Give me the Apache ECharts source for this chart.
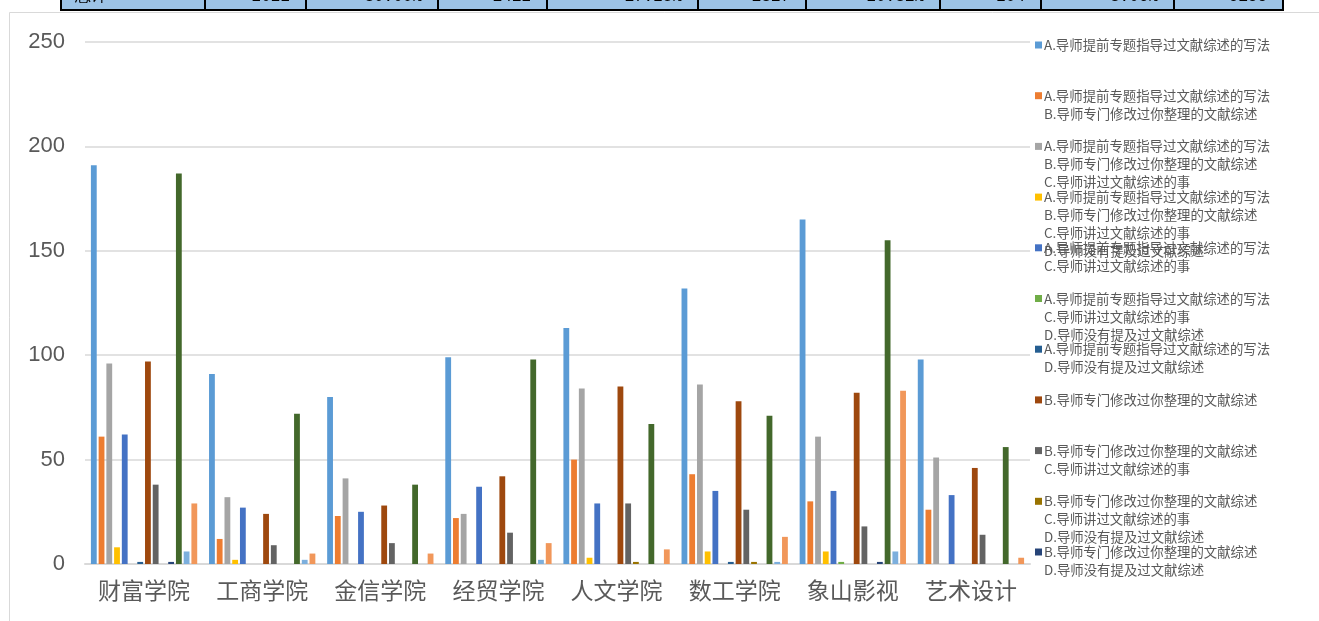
<!DOCTYPE html>
<html><head><meta charset="utf-8">
<script src="https://cdn.jsdelivr.net/npm/echarts@6/dist/echarts.min.js"></script>
<style>html,body{margin:0;padding:0;background:#fff;}#c{width:1319px;height:621px;}</style>
</head><body><div id="c"></div>
<script>
const categories = ['财富学院','工商学院','金信学院','经贸学院','人文学院','数工学院','象山影视','艺术设计'];
const yTicks = [0, 50, 100, 150, 200, 250];
const A = 'A.导师提前专题指导过文献综述的写法';
const B = 'B.导师专门修改过你整理的文献综述';
const C = 'C.导师讲过文献综述的事';
const D = 'D.导师没有提及过文献综述';
const seriesNames = [
  [A], [A,B], [A,B,C], [A,B,C,D], [A,C], [A,C,D], [A,D],
  [B], [B,C], [B,C,D], [B,D], [C], [C,D], [D]
];
const vA    = [191, 91, 80, 99, 113, 132, 165, 98];
const vAB   = [61, 12, 23, 22, 50, 43, 30, 26];
const vABC  = [96, 32, 41, 24, 84, 86, 61, 51];
const vABCD = [8, 2, 0, 0, 3, 6, 6, 0];
const vAC   = [62, 27, 25, 37, 29, 35, 35, 33];
const vACD  = [0, 0, 0, 0, 0, 0, 1, 0];
const vAD   = [1, 0, 0, 0, 0, 1, 0, 0];
const vB    = [97, 24, 28, 42, 85, 78, 82, 46];
const vBC   = [38, 9, 10, 15, 29, 26, 18, 14];
const vBCD  = [0, 0, 0, 0, 1, 1, 0, 0];
const vBD   = [1, 0, 0, 0, 0, 0, 1, 0];
const vC    = [187, 72, 38, 98, 67, 71, 155, 56];
const vCD   = [6, 2, 0, 2, 0, 1, 6, 0];
const vD    = [29, 5, 5, 10, 7, 13, 83, 3];
const seriesValues = [vA, vAB, vABC, vABCD, vAC, vACD, vAD, vB, vBC, vBCD, vBD, vC, vCD, vD];
const colors = ['#5B9BD5','#ED7D31','#A5A5A5','#FFC000','#4472C4','#70AD47','#255E91',
                '#9E480E','#636363','#997300','#264478','#43682B','#7CAFDD','#F1975A'];
// top table strip (clipped screenshot row)
const tableTexts = ['总计','2022','30.00%','1412','17.25%','1317','20.31%','204','3.06%','6188'];
const tableCols = [61, 205, 306, 438, 547, 698, 806, 940, 1041, 1174, 1283];

const chart = echarts.init(document.getElementById('c'), null, {renderer:'canvas'});

const LH = 18;
const legendFirstY = 45, legendStep = 50.7, visibleLegends = 11;
const legends = [];
const series = [];
seriesNames.forEach((parts, i) => {
  const name = parts.join('\n');
  series.push({
    name: name, type: 'bar', data: seriesValues[i],
    itemStyle: {color: colors[i]},
    barGap: '33%', barCategoryGap: '10%'
  });
  if (i < visibleLegends) {
    const n = parts.length;
    const blockH = (2*n - 1) * LH;
    const cy = legendFirstY + i * legendStep;
    legends.push({
      data: [name], left: 1035, top: cy - blockH/2, padding: 0,
      orient: 'vertical', itemWidth: 7, itemHeight: 7, itemGap: 0,
      icon: 'rect', selectedMode: false,
      formatter: (nm) => '\n'.repeat(n-1) + nm,
      textStyle: {fontFamily: 'Noto Sans CJK SC', fontSize: 13.4, color: '#595959', lineHeight: LH, padding: [0,0,0,-3]}
    });
  }
});

const graphics = [];
graphics.push({type:'rect', shape:{x:9.5, y:12.5, width:1320, height:620}, style:{fill:'#fff', stroke:'#D9D9D9', lineWidth:1}, z:-10});
graphics.push({type:'rect', shape:{x:tableCols[0], y:0, width:tableCols[tableCols.length-1]-tableCols[0], height:10}, style:{fill:'#9DC3E6', stroke:null}, z:-5});
graphics.push({type:'line', shape:{x1:tableCols[0], y1:10, x2:tableCols[tableCols.length-1]+1, y2:10}, style:{stroke:'#000', lineWidth:2}, z:-4});
tableCols.forEach(x => graphics.push({type:'line', shape:{x1:x, y1:0, x2:x, y2:11}, style:{stroke:'#000', lineWidth:2}, z:-4}));
tableTexts.forEach((t, i) => {
  const left = i === 0;
  graphics.push({type:'text', x: left ? tableCols[0]+14 : tableCols[i+1]-16, y: 5,
    style:{text:t, fill:'#000', font:'16px "Liberation Mono", monospace', textAlign: left ? 'left':'right', textVerticalAlign:'bottom'}, z:-3});
});

chart.setOption({
  animation: false,
  color: colors,
  graphic: graphics,
  legend: legends,
  grid: {left: 85, right: 289, top: 42, bottom: 57, containLabel: false},
  xAxis: {
    type: 'category', data: categories,
    axisLine: {lineStyle: {color: '#D9D9D9', width: 2}},
    axisTick: {show: false},
    axisLabel: {color: '#595959', fontSize: 23, fontFamily: 'Noto Sans CJK SC', margin: 15, interval: 0}
  },
  yAxis: {
    type: 'value', min: 0, max: yTicks[yTicks.length-1], interval: 50,
    axisLine: {show: false}, axisTick: {show: false},
    axisLabel: {color: '#595959', fontSize: 22, fontFamily: 'Liberation Sans', margin: 20},
    splitLine: {lineStyle: {color: '#D9D9D9', width: 1.5}}
  },
  series: series
});
</script>
</body></html>
